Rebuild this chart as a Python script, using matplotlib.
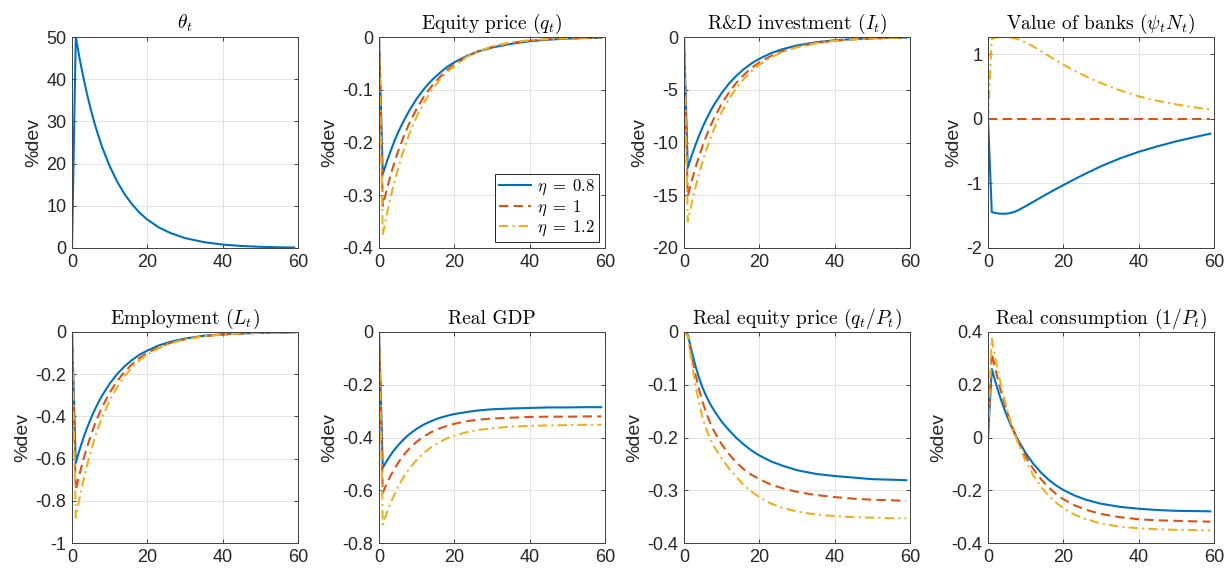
import matplotlib
matplotlib.use("Agg")
import matplotlib.pyplot as plt
from matplotlib.ticker import FuncFormatter

plt.rcParams["font.family"] = ["Liberation Sans", "DejaVu Sans"]
plt.rcParams["mathtext.fontset"] = "cm"
plt.rcParams["axes.unicode_minus"] = False

# quarters after the shock (sampled)
t = [0, 1, 2, 3, 4, 5, 6, 7, 8, 10, 12, 14, 16, 18, 20, 23, 26, 30, 35, 40, 45, 50, 55, 59]

labels = [r"$\eta\;=\;0.8$", r"$\eta\;=\;1$", r"$\eta\;=\;1.2$"]

theta = [0, 50, 45, 40.5, 36.45, 32.8, 29.5, 26.6, 23.9, 19.4, 15.7, 12.7, 10.3, 8.3,
         6.75, 4.9, 3.6, 2.35, 1.39, 0.81, 0.48, 0.28, 0.17, 0.11]

equity_08 = [0, -0.26, -0.238, -0.218, -0.199, -0.182, -0.167, -0.153, -0.140, -0.117, -0.098,
             -0.082, -0.069, -0.057, -0.048, -0.037, -0.028, -0.020, -0.013, -0.008, -0.005,
             -0.003, -0.002, -0.0015]
equity_10 = [0, -0.32, -0.291, -0.264, -0.240, -0.218, -0.199, -0.181, -0.164, -0.136, -0.112,
             -0.093, -0.077, -0.063, -0.052, -0.039, -0.028, -0.019, -0.011, -0.0070, -0.0042,
             -0.0026, -0.0016, -0.0011]
equity_12 = [0, -0.375, -0.339, -0.306, -0.277, -0.251, -0.226, -0.205, -0.185, -0.151, -0.124,
             -0.101, -0.082, -0.067, -0.055, -0.039, -0.028, -0.018, -0.010, -0.0062, -0.0037,
             -0.0023, -0.0014, -0.0009]

rd_08 = [0, -12.4, -11.28, -10.27, -9.34, -8.50, -7.74, -7.04, -6.41, -5.31, -4.39, -3.64, -3.01,
         -2.49, -2.06, -1.55, -1.17, -0.80, -0.50, -0.31, -0.196, -0.122, -0.076, -0.052]
rd_10 = [0, -15.1, -13.71, -12.45, -11.30, -10.26, -9.32, -8.46, -7.68, -6.33, -5.22, -4.30, -3.55,
         -2.92, -2.41, -1.81, -1.35, -0.92, -0.57, -0.35, -0.22, -0.134, -0.083, -0.056]
rd_12 = [0, -17.5, -15.84, -14.33, -12.97, -11.74, -10.62, -9.61, -8.70, -7.12, -5.84, -4.78, -3.92,
         -3.21, -2.63, -1.95, -1.44, -0.97, -0.59, -0.36, -0.22, -0.13, -0.08, -0.054]

banks_08 = [0, -1.443, -1.458, -1.467, -1.47, -1.467, -1.457, -1.44, -1.415, -1.352, -1.285,
            -1.218, -1.152, -1.088, -1.025, -0.933, -0.845, -0.733, -0.612, -0.51, -0.424,
            -0.346, -0.280, -0.228]
banks_10 = [0, 0, 0, 0, 0, 0, 0, 0, 0, 0, 0, 0, 0, 0, 0, 0, 0, 0, 0, 0, 0, 0, 0, 0]
banks_12 = [0, 1.24, 1.262, 1.268, 1.27, 1.268, 1.262, 1.25, 1.236, 1.186, 1.124, 1.054, 0.982,
            0.91, 0.842, 0.746, 0.659, 0.555, 0.445, 0.35, 0.28, 0.225, 0.1775, 0.1455]

empl_08 = [0, -0.62, -0.559, -0.504, -0.455, -0.410, -0.370, -0.334, -0.301, -0.245, -0.199,
           -0.162, -0.132, -0.107, -0.088, -0.064, -0.047, -0.031, -0.018, -0.011, -0.0065,
           -0.004, -0.0024, -0.0016]
empl_10 = [0, -0.75, -0.674, -0.606, -0.545, -0.490, -0.440, -0.396, -0.356, -0.288, -0.232,
           -0.188, -0.152, -0.123, -0.099, -0.072, -0.052, -0.034, -0.0197, -0.0118, -0.007,
           -0.0041, -0.0025, -0.0016]
empl_12 = [0, -0.88, -0.788, -0.705, -0.631, -0.565, -0.505, -0.452, -0.405, -0.324, -0.260,
           -0.208, -0.167, -0.133, -0.107, -0.077, -0.055, -0.035, -0.020, -0.0116, -0.0067,
           -0.0039, -0.0022, -0.0014]

gdp_08 = [0, -0.515, -0.490, -0.468, -0.448, -0.431, -0.415, -0.401, -0.388, -0.367, -0.350,
          -0.337, -0.326, -0.318, -0.311, -0.304, -0.298, -0.293, -0.290, -0.288, -0.286,
          -0.286, -0.285, -0.285]
gdp_10 = [0, -0.61, -0.577, -0.547, -0.521, -0.498, -0.477, -0.459, -0.443, -0.416, -0.395,
          -0.379, -0.366, -0.356, -0.348, -0.339, -0.333, -0.328, -0.325, -0.322, -0.321,
          -0.321, -0.320, -0.320]
gdp_12 = [0, -0.730, -0.688, -0.651, -0.619, -0.589, -0.563, -0.540, -0.519, -0.485, -0.457,
          -0.435, -0.418, -0.404, -0.393, -0.381, -0.372, -0.365, -0.359, -0.356, -0.354,
          -0.353, -0.352, -0.352]

req_08 = [0, -0.005, -0.035, -0.063, -0.087, -0.107, -0.123, -0.137, -0.149, -0.170, -0.1865,
          -0.2015, -0.214, -0.225, -0.234, -0.245, -0.253, -0.262, -0.269, -0.273, -0.276,
          -0.279, -0.280, -0.281]
req_10 = [0, -0.006, -0.044, -0.079, -0.109, -0.134, -0.155, -0.173, -0.188, -0.213, -0.232,
          -0.248, -0.261, -0.271, -0.279, -0.289, -0.296, -0.303, -0.309, -0.313, -0.316,
          -0.318, -0.319, -0.320]
req_12 = [0, -0.008, -0.056, -0.099, -0.135, -0.164, -0.186, -0.203, -0.217, -0.240, -0.259,
          -0.276, -0.291, -0.303, -0.313, -0.325, -0.333, -0.3405, -0.346, -0.349, -0.351,
          -0.352, -0.353, -0.353]

cons_08 = [0, 0.260, 0.209, 0.163, 0.121, 0.083, 0.049, 0.018, -0.010, -0.059, -0.099, -0.132,
           -0.159, -0.181, -0.199, -0.220, -0.236, -0.251, -0.263, -0.270, -0.275, -0.278,
           -0.279, -0.280]
cons_10 = [0, 0.320, 0.256, 0.198, 0.147, 0.100, 0.058, 0.020, -0.014, -0.072, -0.119, -0.157,
           -0.188, -0.213, -0.234, -0.257, -0.274, -0.290, -0.302, -0.310, -0.314, -0.316,
           -0.318, -0.319]
cons_12 = [0, 0.375, 0.297, 0.228, 0.165, 0.110, 0.060, 0.016, -0.023, -0.090, -0.143, -0.186,
           -0.219, -0.246, -0.268, -0.293, -0.310, -0.326, -0.338, -0.344, -0.348, -0.350,
           -0.351, -0.352]

# MATLAB default colours / line styles
colours = ["#0072BD", "#D95319", "#EDB120"]
dashes = [None, (4.5, 2.5), (4.5, 2, 1, 2)]

panels = [
    (r"$\theta_t$", [theta], (0, 50), [0, 10, 20, 30, 40, 50]),
    (r"Equity price $(q_t)$", [equity_08, equity_10, equity_12], (-0.4, 0),
     [-0.4, -0.3, -0.2, -0.1, 0]),
    (r"R&D investment $(I_t)$", [rd_08, rd_10, rd_12], (-20, 0), [-20, -15, -10, -5, 0]),
    (r"Value of banks $(\psi_t N_t)$", [banks_08, banks_10, banks_12], (-2, 1.27),
     [-2, -1, 0, 1]),
    (r"Employment $(L_t)$", [empl_08, empl_10, empl_12], (-1, 0),
     [-1, -0.8, -0.6, -0.4, -0.2, 0]),
    (r"Real GDP", [gdp_08, gdp_10, gdp_12], (-0.8, 0), [-0.8, -0.6, -0.4, -0.2, 0]),
    (r"Real equity price $(q_t/P_t)$", [req_08, req_10, req_12], (-0.4, 0),
     [-0.4, -0.3, -0.2, -0.1, 0]),
    (r"Real consumption $(1/P_t)$", [cons_08, cons_10, cons_12], (-0.4, 0.4),
     [-0.4, -0.2, 0, 0.2, 0.4]),
]

W, H = 1225, 570
fig = plt.figure(figsize=(W / 100, H / 100), dpi=100)

lefts = [72, 379, 684, 988]
tops = [37, 332]
aw, ah = 226, 211

fmt = FuncFormatter(lambda v, p: "%g" % v)

for i, (title, series, ylim, yticks) in enumerate(panels):
    r, c = divmod(i, 4)
    ax = fig.add_axes([lefts[c] / W, (H - tops[r] - ah) / H, aw / W, ah / H])
    for k, y in enumerate(series):
        line, = ax.plot(t, y, color=colours[k], lw=1.5, label=labels[k])
        if dashes[k] is not None:
            line.set_dashes(dashes[k])
    ax.set_xlim(0, 60)
    ax.set_ylim(*ylim)
    ax.set_xticks([0, 20, 40, 60])
    ax.set_yticks(yticks)
    ax.yaxis.set_major_formatter(fmt)
    ax.grid(True, color="#e3e3e3", lw=0.7)
    ax.set_axisbelow(True)
    ax.tick_params(direction="in", length=3, width=0.6, top=True, right=True,
                   labelsize=13, colors="#262626", pad=4)
    for s in ax.spines.values():
        s.set_color("#404040")
        s.set_linewidth(0.7)
    ax.set_title(title, fontsize=14, pad=6, family="cmr10")
    ax.set_ylabel("%dev", fontsize=14, color="#262626", labelpad=3)
    if i == 1:
        leg = ax.legend(loc="lower right", fontsize=12, fancybox=False, framealpha=1,
                        borderpad=0.25, labelspacing=0.05, handlelength=1.9,
                        handletextpad=0.4, borderaxespad=0.35)
        leg.get_frame().set_edgecolor("#262626")
        leg.get_frame().set_linewidth(0.7)

fig.savefig("out.png", dpi=100)
